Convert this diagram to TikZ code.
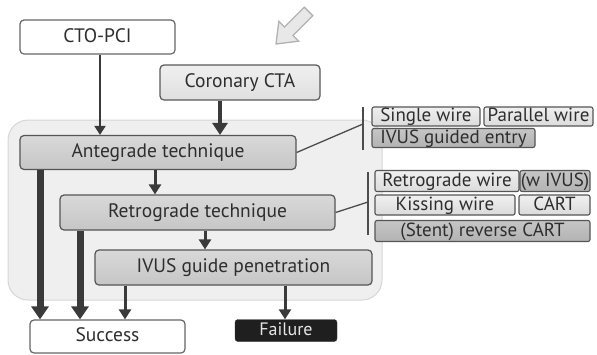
\documentclass[tikz,border=0pt]{standalone}
\usepackage{fontspec}
\setmainfont{PT Sans}
\usetikzlibrary{arrows.meta}
\definecolor{txt}{HTML}{2E2E2E}
\definecolor{edge}{HTML}{555555}
\definecolor{arr}{HTML}{3a3a3a}
\definecolor{bgfill}{HTML}{EFEFEF}
\definecolor{bgline}{HTML}{D6D6D6}
\begin{document}
\begin{tikzpicture}[x=1pt,y=-1pt,
  every node/.style={inner sep=0pt, text=txt, font=\fontsize{19.5}{22}\selectfont, text height=13.5pt, text depth=3pt},
  basebox/.style={rectangle, rounded corners=4pt, draw=edge, line width=1.2pt},
  whitebox/.style={basebox, fill=white, draw=gray!80!black},
  ctabox/.style={basebox, top color=gray!12, bottom color=gray!25, draw=gray!70!black},
  mainbox/.style={basebox, top color=gray!30, bottom color=gray!45},
  failbox/.style={rectangle, rounded corners=3pt, fill=black!88, draw=black!80, text=gray!20, font=\fontsize{18}{20}\selectfont},
  taglight/.style={rectangle, rounded corners=2pt, draw=edge, line width=1.1pt, top color=gray!12, bottom color=gray!28, font=\fontsize{19}{21}\selectfont, text height=13pt, text depth=3pt},
  tagdark/.style={taglight, top color=gray!45, bottom color=gray!60},
  arrthin/.style={draw=arr, line width=2pt, -{Triangle[length=9pt,width=11pt]}},
  arrmid/.style={draw=arr, line width=3pt, -{Triangle[length=10pt,width=12pt]}},
  arrcta/.style={draw=arr, line width=4.5pt, -{Triangle[length=12pt,width=15pt]}},
  arrthick/.style={draw=arr, line width=7pt, -{Triangle[length=13pt,width=17pt]}},
  bracket/.style={draw=gray!60!black, line width=1.3pt}
]
\useasboundingbox (0,0) rectangle (597,354);
% background region
\path[fill=bgfill, draw=bgline, line width=1pt, rounded corners=20pt] (8,120) rectangle (382,300);
% hollow arrow
\path[fill=gray!18, draw=gray!60, line width=1.3pt, line join=miter]
  (276,44) -- (278.8,21.4) -- (284.5,27.0) -- (304.3,7.2) -- (312.8,15.7) -- (293,35.5) -- (298.6,41.2) -- cycle;
% main nodes
\node[whitebox, minimum width=155pt, minimum height=34pt] (cto) at (97.5,37) {CTO-PCI};
\node[ctabox, minimum width=160pt, minimum height=35pt] (cta) at (240,82.5) {Coronary CTA};
\node[mainbox, minimum width=276pt, minimum height=34pt] (ante) at (158,152.5) {Antegrade technique};
\node[mainbox, minimum width=275pt, minimum height=35pt] (retro) at (197.5,212.5) {Retrograde technique};
\node[mainbox, minimum width=277pt, minimum height=35pt] (ivus) at (233.5,267.5) {IVUS guide penetration};
\node[whitebox, minimum width=155pt, minimum height=33pt] (succ) at (107.5,336.5) {Success};
\node[failbox, minimum width=102pt, minimum height=22pt] (fail) at (286,330.5) {Failure};
% tags group 1
\node[taglight, minimum width=108pt, minimum height=19pt] (t1) at (426,116.5) {Single wire};
\node[taglight, minimum width=109pt, minimum height=19pt] (t2) at (538.5,116.5) {Parallel wire};
\node[tagdark, minimum width=163pt, minimum height=19pt] (t3) at (453.5,138) {IVUS guided entry};
% tags group 2
\node[taglight, minimum width=144pt, minimum height=21pt] (t4) at (447,181) {Retrograde wire};
\node[tagdark, minimum width=70pt, minimum height=21pt] (t5) at (555,181) {(w IVUS)};
\node[taglight, minimum width=140pt, minimum height=20pt] (t6) at (445,205) {Kissing wire};
\node[taglight, minimum width=71pt, minimum height=20pt] (t7) at (554.5,205) {CART};
\node[tagdark, minimum width=215pt, minimum height=21pt] (t8) at (482.5,231) {(Stent) reverse CART};
% brackets
\coordinate (b1) at (363,124);
\coordinate (b2) at (368,202);
\draw[bracket] (363,107) -- (363,150);
\draw[bracket] (368,172) -- (368,235);
\draw[bracket] (ante.east) -- (b1);
\draw[bracket] (retro.east) -- (b2);
% arrows
\draw[arrthin] (cto.south -| 100,0) -- (ante.north -| 100,0);
\draw[arrcta] (cta.south -| 220,0) -- (ante.north -| 220,0);
\draw[arrmid] (ante.south -| 155,0) -- (retro.north -| 155,0);
\draw[arrmid] (retro.south -| 205,0) -- (ivus.north -| 205,0);
\draw[arrthick] (ante.south -| 40,0) -- (succ.north -| 40,0);
\draw[arrthick] (retro.south -| 80,0) -- (succ.north -| 80,0);
\draw[arrmid] (ivus.south -| 125,0) -- (succ.north -| 125,0);
\draw[arrmid] (ivus.south -| 285,0) -- (fail.north -| 285,0);
\end{tikzpicture}
\end{document}
